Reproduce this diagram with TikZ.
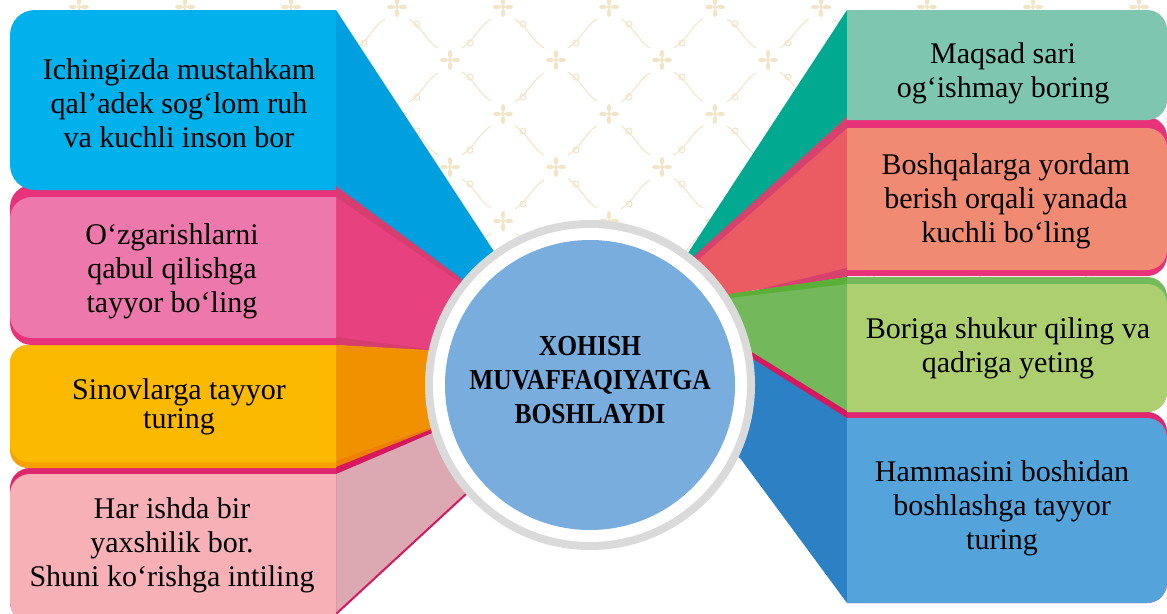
\documentclass[tikz,border=0pt]{standalone}
\usepackage{fontspec}
\setmainfont{Liberation Serif}
\newfontfamily\ctrfont[FakeStretch=0.88]{Liberation Serif}
\definecolor{cyanbox}{HTML}{00B1EB}
\definecolor{cyanwedge}{HTML}{009FE0}
\definecolor{pinkstripe}{HTML}{E8337B}
\definecolor{pinkbox}{HTML}{ED79AC}
\definecolor{pinkwedge}{HTML}{E8417F}
\definecolor{pinkwedgedark}{HTML}{D63E70}
\definecolor{yellowbox}{HTML}{FBB900}
\definecolor{yellowdark}{HTML}{F5A200}
\definecolor{orangewedge}{HTML}{F29100}
\definecolor{orangedark}{HTML}{EE7F00}
\definecolor{redline}{HTML}{D6195F}
\definecolor{roseStripe}{HTML}{E0266E}
\definecolor{rosebox}{HTML}{F6B0B6}
\definecolor{rosewedge}{HTML}{DCA8B2}
\definecolor{tealbox}{HTML}{7EC6AF}
\definecolor{tealwedge}{HTML}{00A98F}
\definecolor{salmonbox}{HTML}{F08A73}
\definecolor{redwedge}{HTML}{EB5B62}
\definecolor{redwedgedark}{HTML}{D7416D}
\definecolor{greenstripe}{HTML}{74BA5C}
\definecolor{greenbox}{HTML}{ADCF6F}
\definecolor{greenwedge}{HTML}{73B85B}
\definecolor{greenbright}{HTML}{5BAE36}
\definecolor{bluebox}{HTML}{54A4DB}
\definecolor{bluewedge}{HTML}{2B81C4}
\definecolor{ringgray}{HTML}{DADADA}
\definecolor{centerblue}{HTML}{79ADDD}
\definecolor{ornament}{HTML}{F2E4C6}
\begin{document}
\begin{tikzpicture}[x=1pt,y=-1pt,
  txt/.style={align=center,inner sep=0pt,text=black,font=\fontsize{30}{34}\selectfont},
  ctxt/.style={align=center,inner sep=0pt,text=black,font=\ctrfont\bfseries\fontsize{29}{34}\selectfont},
  petal/.style={fill=ornament},
  swirl/.style={draw=ornament,line width=1pt}]
\useasboundingbox (0,0) rectangle (1167,613);
\fill[white] (0,0) rectangle (1167,613);
% ---------- faint background ornament ----------
\begin{scope}
\clip (0,0) rectangle (1167,300);
\foreach \i in {-4,...,7}{
  \foreach \j in {0,1,2}{
    \foreach \dx/\dy in {0/0,53/-53}{
      \pgfmathsetmacro{\px}{450+106*\i+\dx}
      \pgfmathsetmacro{\py}{60+107*\j+\dy}
      \fill[petal] (\px,\py-6) ellipse (2.2pt and 4pt);
      \fill[petal] (\px,\py+6) ellipse (2.2pt and 4pt);
      \fill[petal] (\px-6,\py) ellipse (4pt and 2.2pt);
      \fill[petal] (\px+6,\py) ellipse (4pt and 2.2pt);
      \fill[petal] (\px,\py) circle (2pt);
      \draw[swirl] (\px+12,\py-12) .. controls (\px+25,\py-20) and (\px+30,\py-35) .. (\px+41,\py-41);
      \draw[swirl] (\px+12,\py+12) .. controls (\px+25,\py+20) and (\px+30,\py+35) .. (\px+41,\py+41);
      \draw[swirl] (\px+20,\py-17) circle (3pt);
      \draw[swirl] (\px+20,\py+17) circle (3pt);
    }
  }
}
\end{scope}
\coordinate (C) at (590,385);
% ---------- left wedges ----------
\fill[cyanwedge] (336,10) -- (493,250) -- (C) -- (460,280) -- (336,186) -- cycle;
\fill[pinkwedge] (336,186) -- (460,280) -- (C) -- (428,350) -- (336,345) -- cycle;
\fill[pinkwedgedark] (336,186) -- (462,279) -- (462,284) -- (336,197) -- cycle;
\fill[pinkwedgedark] (336,337) -- (428,349) -- (428,351) -- (336,345) -- cycle;
\fill[orangewedge] (336,345) -- (428,350) -- (C) -- (432,432) -- (336,470) -- cycle;
\fill[orangedark] (336,461) -- (432,427) -- (432,431) -- (336,468) -- cycle;
\fill[rosewedge] (336,472) -- (432,432) -- (C) -- (465,495) -- (336,613) -- cycle;
\fill[redline] (336,467) -- (432,429) -- (432,433) -- (336,474) -- cycle;
\draw[redline,line width=2pt] (336,614) -- (466,494);
% ---------- right wedges ----------
\fill[tealwedge] (847,10) -- (688,253) -- (C) -- (695,257) -- (847,117) -- cycle;
\fill[redwedge] (847,117) -- (695,257) -- (C) -- (730,295) -- (847,272) -- cycle;
\fill[redwedgedark] (847,117) -- (694,256) -- (697,261) -- (847,128) -- cycle;
\fill[redwedgedark] (847,268) -- (847,277) -- (740,294) -- cycle;
\fill[greenwedge] (847,277) -- (730,295) -- (C) -- (752,353) -- (847,415) -- cycle;
\fill[greenbright] (847,277) -- (729,294) -- (729,298) -- (847,284) -- cycle;
\fill[bluewedge] (847,415) -- (752,353) -- (C) -- (740,458) -- (847,603) -- cycle;
\fill[redline] (847,411) -- (750,351) -- (750,357) -- (847,418) -- cycle;
% ---------- left boxes ----------
\begin{scope}
\clip (0,0) rectangle (336,613);
\fill[roseStripe,rounded corners=20pt] (10,468) rectangle (420,622);
\fill[rosebox,rounded corners=20pt] (10,474) rectangle (420,622);
\fill[yellowdark,rounded corners=18pt] (10,345) rectangle (420,468);
\fill[yellowbox,rounded corners=18pt] (10,345) rectangle (420,462);
\fill[pinkstripe,rounded corners=22pt] (10,185) rectangle (420,345);
\fill[pinkbox,rounded corners=22pt] (10,197) rectangle (420,338);
\fill[cyanbox,rounded corners=25pt] (10,10) rectangle (420,190);
\end{scope}
% ---------- right boxes ----------
\begin{scope}
\clip (847,0) rectangle (1167,613);
\fill[roseStripe,rounded corners=20pt] (800,412) rectangle (1167,603);
\fill[bluebox,rounded corners=20pt] (800,418) rectangle (1167,603);
\fill[greenstripe,rounded corners=20pt] (800,277) rectangle (1167,412);
\fill[greenbox,rounded corners=20pt] (800,284) rectangle (1167,412);
\fill[pinkstripe,rounded corners=20pt] (800,117) rectangle (1167,276);
\fill[salmonbox,rounded corners=20pt] (800,128) rectangle (1167,270);
\fill[tealbox,rounded corners=20pt] (800,10) rectangle (1167,120);
\end{scope}
% ---------- centre ----------
\fill[ringgray] (C) circle (165pt);
\fill[white] (C) circle (157pt);
\node[circle,fill=centerblue,minimum size=290pt,inner sep=0pt] (center) at (C) {};
\node[ctxt] (ctitle) at (590,380) {XOHISH\\MUVAFFAQIYATGA\\BOSHLAYDI};
% ---------- texts ----------
\node[txt] (l1) at (179,103) {Ichingizda mustahkam\\qal’adek sog‘lom ruh\\va kuchli inson bor};
\node[txt] (l2) at (172,271) {O‘zgarishlarni\\qabul qilishga\\tayyor bo‘ling};
\node[txt,font=\fontsize{30}{29}\selectfont] (l3) at (179,407) {Sinovlarga tayyor\\turing};
\node[txt] (l4) at (172,545) {Har ishda bir\\yaxshilik bor.\\Shuni ko‘rishga intiling};
\node[txt] (r1) at (1003,73) {Maqsad sari\\og‘ishmay boring};
\node[txt] (r2) at (1006,201) {Boshqalarga yordam\\berish orqali yanada\\kuchli bo‘ling};
\node[txt] (r3) at (1008,348) {Boriga shukur qiling va\\qadriga yeting};
\node[txt] (r4) at (1002,508) {Hammasini boshidan\\boshlashga tayyor\\turing};
\end{tikzpicture}
\end{document}
